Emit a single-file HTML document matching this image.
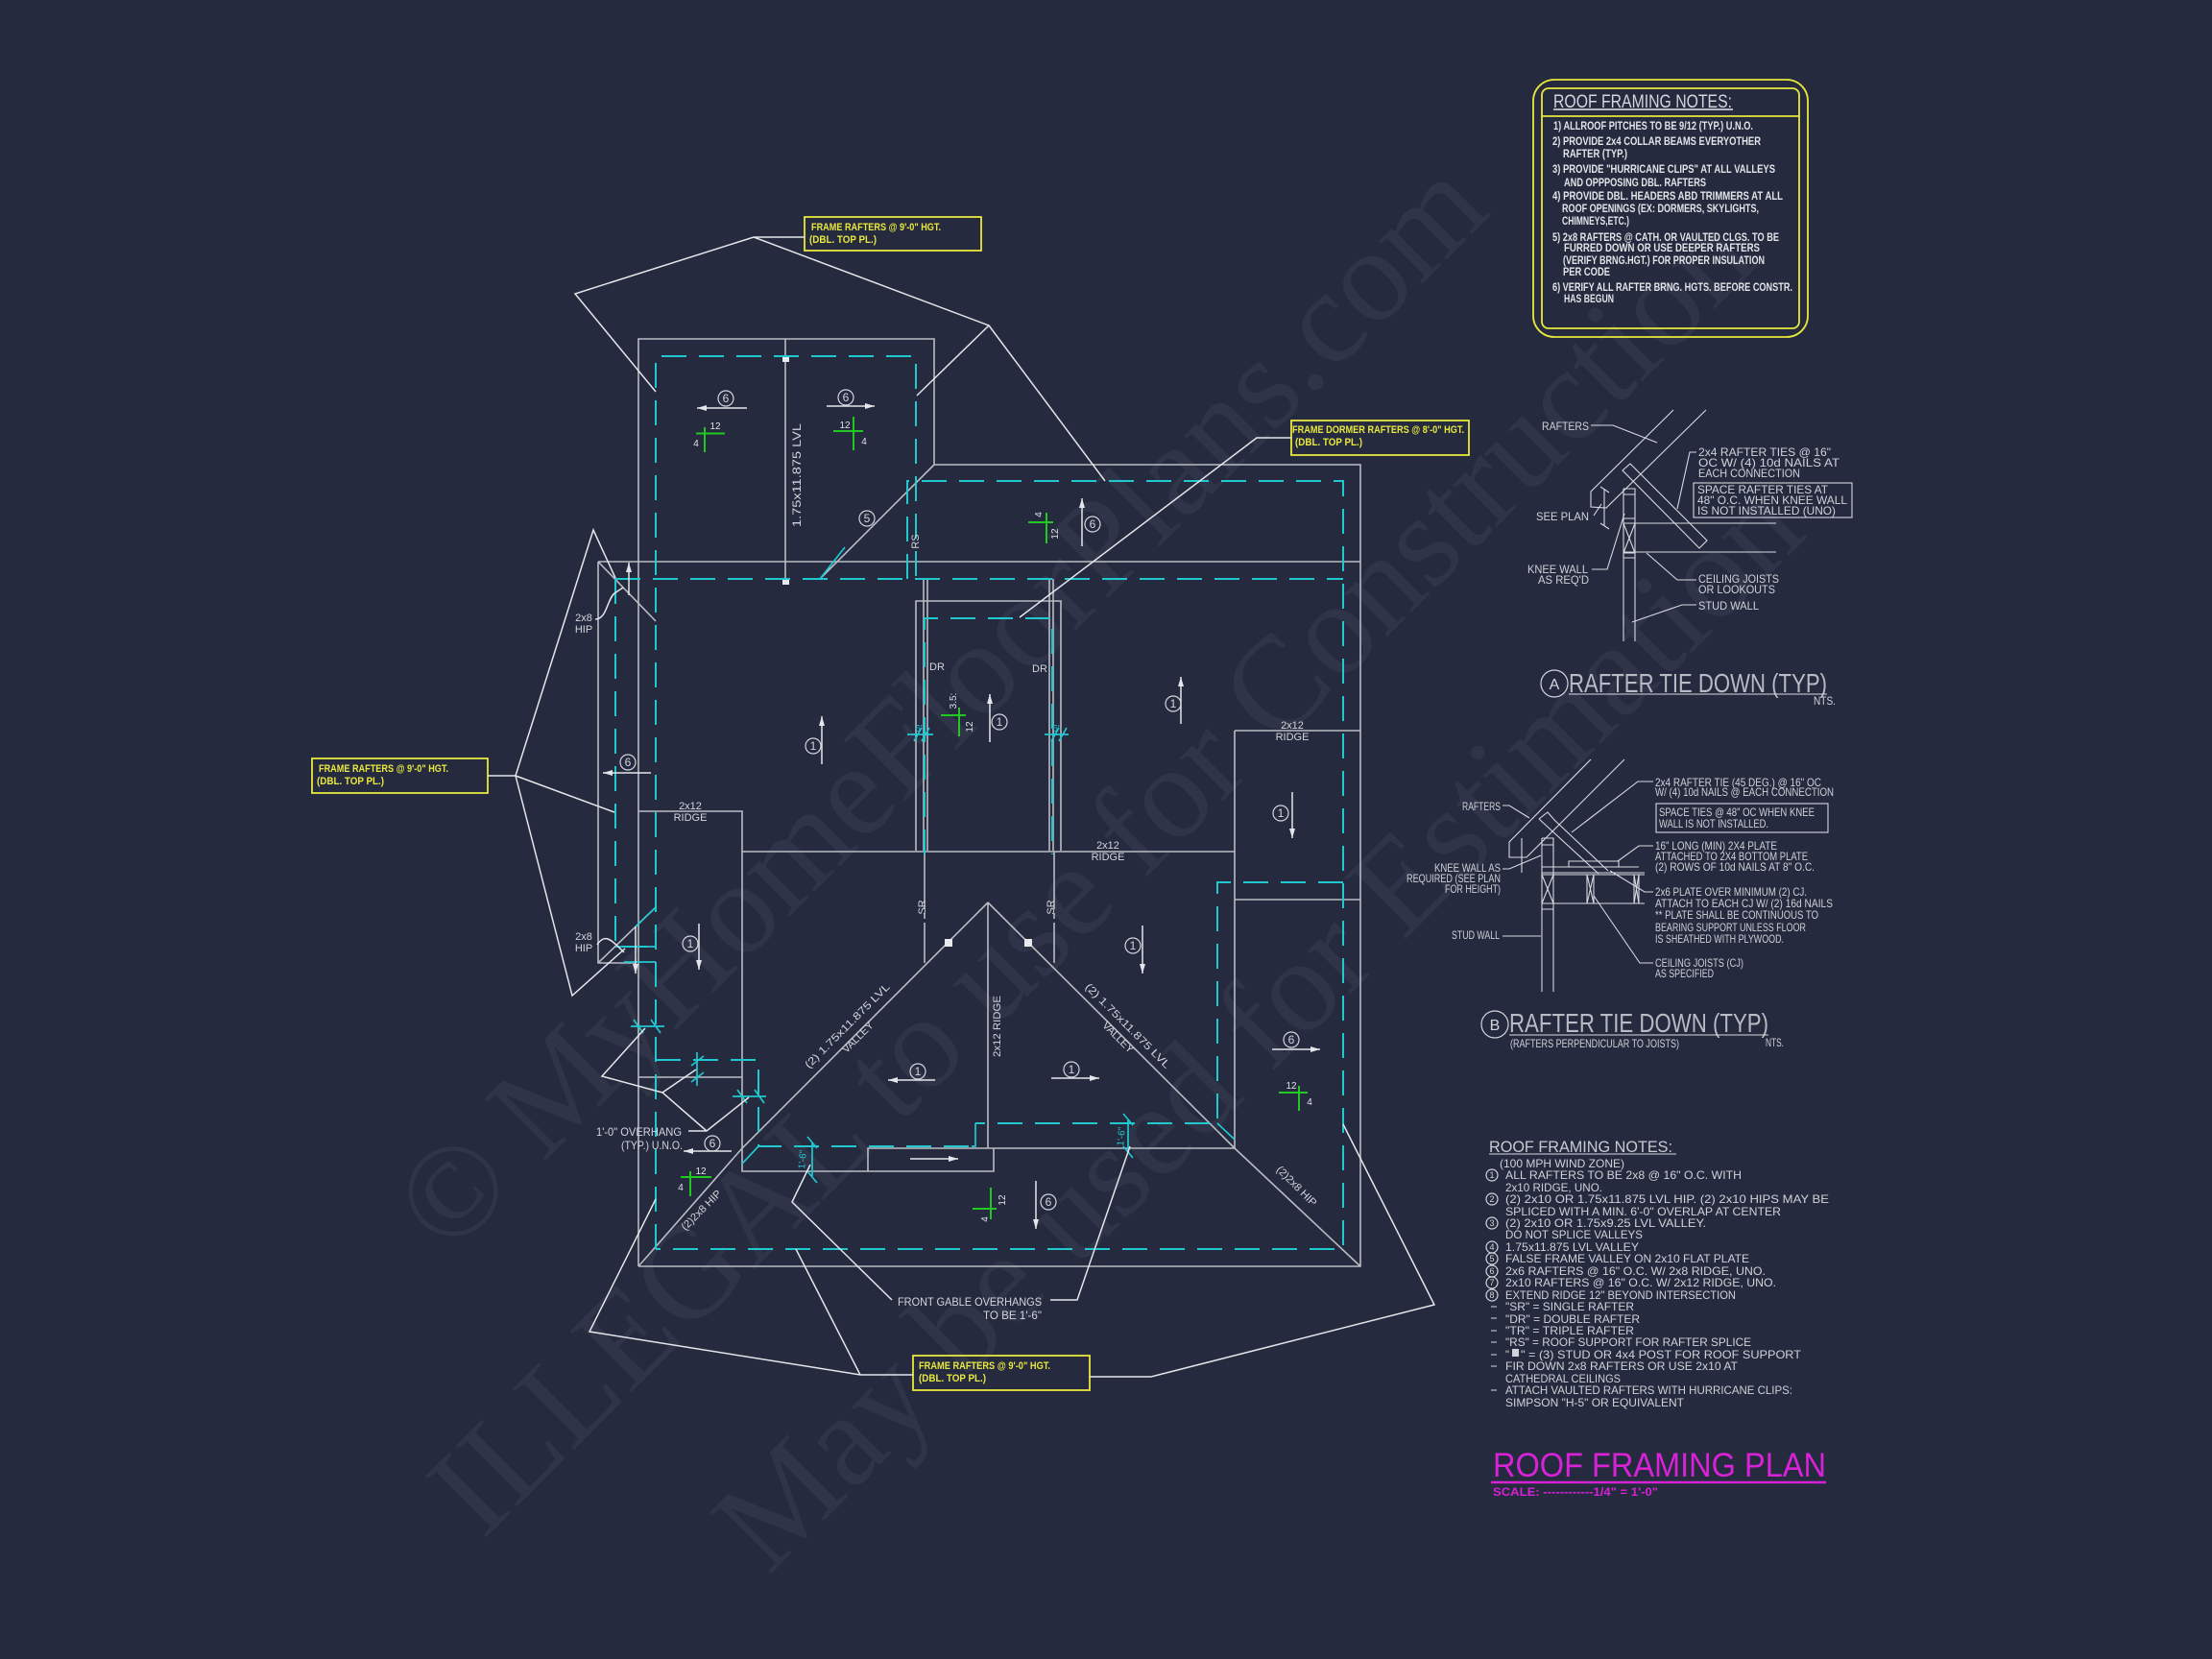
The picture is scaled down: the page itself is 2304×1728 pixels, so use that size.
<!DOCTYPE html>
<html><head><meta charset="utf-8"><title>Roof Framing Plan</title>
<style>
html,body{margin:0;padding:0;background:#252a3e;width:2304px;height:1728px;overflow:hidden}
svg{display:block}
text{font-family:"Liberation Sans",sans-serif;fill:#d3d6dc;font-size:12px}
.wm{font-family:"Liberation Serif",serif;font-size:138px;fill:#2f3448}
.s{font-size:11px}
.y{fill:#e8e83c;font-size:11px;font-weight:bold}
.n{fill:#e2e4e8;font-size:11.5px;font-weight:bold}
.d{font-size:12px;fill:#cfd2d8}
.g{fill:#e0e2e6;font-size:10px}
.c{fill:#20c8d0;font-size:10px}
.l{stroke:#b9bcc3;stroke-width:1.6;fill:none}
.w{stroke:#e4e6ea;stroke-width:1.5;fill:none}
.t{stroke:#d8dae0;stroke-width:1.1;fill:none}
.a{stroke:#e4e6ea;stroke-width:1.5;fill:none;marker-end:url(#ah)}
.cy{stroke:#20c8d0;stroke-width:2;fill:none;stroke-dasharray:26 13}
.cs{stroke:#20c8d0;stroke-width:1.7;fill:none}
.gr{stroke:#22c822;stroke-width:2;fill:none}
.ye{stroke:#e8e83c;stroke-width:1.8;fill:none}
.ci{stroke:#d3d6dc;stroke-width:1.2;fill:none}
</style></head><body>
<svg xmlns="http://www.w3.org/2000/svg" width="2304" height="1728" viewBox="0 0 2304 1728">
<defs><marker id="ah" viewBox="0 0 10 6" refX="10" refY="3" markerWidth="10" markerHeight="6" markerUnits="userSpaceOnUse" orient="auto"><path d="M0 0L10 3L0 6Z" fill="#e4e6ea"/></marker></defs>
<rect width="2304" height="1728" fill="#252a3e"/>

<!-- watermarks -->
<text class="wm" transform="translate(467,1310) rotate(-45)">© MyHomeFloorPlans.com</text>
<text class="wm" transform="translate(503,1605) rotate(-45)">ILLEGAL to use for Construction</text>
<text class="wm" transform="translate(800,1642) rotate(-45)">May be used for Estimation</text>

<!-- plan outline -->
<path class="l" d="M665 1319V353H973V484H1417V1319H665"/>
<path class="l" d="M623 585H1417M623 585V1003H662M623 585L683 647M623 1003L683 945"/>
<path class="l" d="M818 353V606M854 603L973 484"/>
<path class="l" d="M954 886V626H1105V886M962 603V886M966 603V886M1093 603V886M1097 603V886"/>
<path class="l" d="M773 887H1286M665 845H773V1220H1035V1196M1286 761H1417M1286 761V1196H904V1220M665 1122H773M1286 937H1417"/>
<path class="l" d="M1029 940V1196M1029 940L773 1196L665 1319M1029 940L1286 1196L1417 1319"/>
<path class="l" d="M963 887V1003M1098 887V1003" stroke-dasharray="60 4 6 4"/>
<rect x="984" y="978" width="8" height="8" fill="#e8eaee"/><rect x="1067" y="978" width="8" height="8" fill="#e8eaee"/>
<rect x="815" y="370" width="7" height="7" fill="#e8eaee"/><rect x="815" y="602" width="7" height="7" fill="#e8eaee"/>

<!-- cyan -->
<path class="cy" d="M683 1301V371H954V603"/>
<path class="cy" d="M641 603H1399M945 603V501H1399V1301H683M641 603V986H683"/>
<path class="cy" d="M963 890V644H1096V890"/>
<path class="cy" d="M1399 919H1268V1170H1016"/>
<path class="cy" d="M683 1104H790V1194H1012"/>
<path class="cs" d="M854 603L880 570M683 945L662 965M641 986H683M650 1002H683M790 1194L773 1212M1268 1170L1286 1187M1012 1194H1016V1170"/>
<path class="cs" d="M657 1069H692M660 1062L670 1076M678 1062L688 1076M726 1096V1131M720 1110L733 1100M720 1127L733 1117M763 1142H798M768 1135L778 1149M786 1135L796 1149M846 1190V1225M841 1184L851 1196M841 1220L851 1232M1175 1166V1200M1170 1160L1180 1172M1170 1194L1180 1206M945 765H972M952 772L960 758M960 772L968 758M1088 765H1113M1095 772L1103 758M1103 772L1111 758"/>
<text class="c" transform="translate(839,1208) rotate(-85)" text-anchor="middle">1'-6"</text>
<text class="c" transform="translate(1171,1184) rotate(-85)" text-anchor="middle">1'-6"</text>
<text class="c" x="957" y="762" text-anchor="middle">6'</text><text class="c" x="1100" y="762" text-anchor="middle">6'</text>

<!-- yellow labels -->
<rect class="ye" x="838" y="226" width="184" height="35"/>
<text class="y" x="845" y="240" textLength="135" lengthAdjust="spacingAndGlyphs">FRAME RAFTERS @ 9'-0" HGT.</text>
<text class="y" x="843" y="253" textLength="70" lengthAdjust="spacingAndGlyphs">(DBL. TOP PL.)</text>
<rect class="ye" x="1345" y="438" width="185" height="36"/>
<text class="y" x="1346" y="451" textLength="179" lengthAdjust="spacingAndGlyphs">FRAME DORMER RAFTERS @ 8'-0" HGT.</text>
<text class="y" x="1349" y="464" textLength="70" lengthAdjust="spacingAndGlyphs">(DBL. TOP PL.)</text>
<rect class="ye" x="325" y="790" width="183" height="36"/>
<text class="y" x="332" y="804" textLength="135" lengthAdjust="spacingAndGlyphs">FRAME RAFTERS @ 9'-0" HGT.</text>
<text class="y" x="330" y="817" textLength="70" lengthAdjust="spacingAndGlyphs">(DBL. TOP PL.)</text>
<rect class="ye" x="951" y="1412" width="184" height="36"/>
<text class="y" x="957" y="1426" textLength="137" lengthAdjust="spacingAndGlyphs">FRAME RAFTERS @ 9'-0" HGT.</text>
<text class="y" x="957" y="1439" textLength="70" lengthAdjust="spacingAndGlyphs">(DBL. TOP PL.)</text>

<!-- leaders -->
<path class="w" d="M838 247H785L599 306L683 408M785 247L1030 339L955 412M1030 339L1151 501"/>
<path class="w" d="M1345 456H1309L1062 643"/>
<path class="w" d="M508 808H537L618 552L641 602M537 808L640 846M537 808L596 1037L651 988"/>
<path class="w" d="M951 1432H896L614 1387L683 1249M896 1432L829 1301M1135 1434H1199L1494 1359L1399 1171"/>
<path class="w" d="M717 1178H736L780 1143M736 1178L690 1138L725 1114M690 1138L627 1121L672 1071"/>
<path class="w" d="M929 1354L825 1252L844 1213M1094 1354H1122L1177 1194"/>
<path class="w" d="M620 645C632 645 632 625 640 618L649 612"/>
<path class="w" d="M622 984C630 972 636 978 650 992"/>

<!-- arrows -->
<path class="a" d="M778 425H726"/><path class="a" d="M861 423H911"/><path class="a" d="M1127 569V519"/>
<path class="a" d="M678 805H628"/><path class="a" d="M655 620V586"/><path class="a" d="M856 796V746"/><path class="a" d="M1031 773V723"/>
<path class="a" d="M1230 754V705"/><path class="a" d="M1346 825V873"/><path class="a" d="M728 962V1010"/><path class="a" d="M1190 964V1014"/>
<path class="a" d="M662 965V1014"/><path class="a" d="M974 1125H925"/><path class="a" d="M1095 1123H1145"/><path class="a" d="M1325 1093H1375"/>
<path class="a" d="M762 1199H712"/><path class="a" d="M948 1207H998"/><path class="a" d="M1079 1230V1280"/>

<!-- circled tags -->
<g class="ci"><circle cx="756" cy="415" r="8"/><circle cx="881" cy="414" r="8"/><circle cx="1138" cy="546" r="8"/><circle cx="903" cy="540" r="8"/><circle cx="654" cy="794" r="8"/><circle cx="847" cy="777" r="8"/><circle cx="1041" cy="752" r="8"/><circle cx="1222" cy="733" r="8"/><circle cx="1334" cy="847" r="8"/><circle cx="719" cy="983" r="8"/><circle cx="1180" cy="985" r="8"/><circle cx="956" cy="1116" r="8"/><circle cx="1116" cy="1114" r="8"/><circle cx="1345" cy="1083" r="8"/><circle cx="742" cy="1191" r="8"/><circle cx="1092" cy="1252" r="8"/></g>
<g class="s" text-anchor="middle">
<text x="756" y="419" text-anchor="middle">6</text><text x="881" y="418" text-anchor="middle">6</text><text x="1138" y="550" text-anchor="middle">6</text><text x="903" y="544" text-anchor="middle">5</text><text x="654" y="798" text-anchor="middle">6</text><text x="847" y="781" text-anchor="middle">1</text><text x="1041" y="756" text-anchor="middle">1</text><text x="1222" y="737" text-anchor="middle">1</text><text x="1334" y="851" text-anchor="middle">1</text><text x="719" y="987" text-anchor="middle">1</text><text x="1180" y="989" text-anchor="middle">1</text><text x="956" y="1120" text-anchor="middle">1</text><text x="1116" y="1118" text-anchor="middle">1</text><text x="1345" y="1087" text-anchor="middle">6</text><text x="742" y="1195" text-anchor="middle">6</text><text x="1092" y="1256" text-anchor="middle">6</text>
</g>

<!-- pitch marks -->
<path class="gr" d="M725 451.5H755M734 445V471M868 449H899M889 434V469M1071 544H1097M1090 534V566M980 745H1006M999 737V767M1332 1138H1362M1353 1131V1157M709 1226H741M719 1220V1246M1013 1259H1038M1032 1237V1270"/>
<g class="g">
<text class="g" x="745" y="447" text-anchor="middle">12</text><text class="g" x="725" y="465" text-anchor="middle">4</text>
<text class="g" x="880" y="446" text-anchor="middle">12</text><text class="g" x="900" y="463" text-anchor="middle">4</text>
<text class="g" x="1345" y="1134" text-anchor="middle">12</text><text class="g" x="1364" y="1151" text-anchor="middle">4</text>
<text class="g" x="730" y="1223" text-anchor="middle">12</text><text class="g" x="709" y="1240" text-anchor="middle">4</text>
<text class="g" transform="translate(1085,536) rotate(-90)" text-anchor="middle">4</text><text class="g" transform="translate(1102,556) rotate(-90)" text-anchor="middle">12</text>
<text class="g" transform="translate(996,730) rotate(-90)" text-anchor="middle">3.5:</text><text class="g" transform="translate(1013,757) rotate(-90)" text-anchor="middle">12</text>
<text class="g" transform="translate(1047,1250) rotate(-90)" text-anchor="middle">12</text><text class="g" transform="translate(1029,1270) rotate(-90)" text-anchor="middle">4</text>
</g>

<!-- plan labels -->
<text transform="translate(834,495) rotate(-90)" text-anchor="middle" textLength="108" lengthAdjust="spacingAndGlyphs">1.75x11.875 LVL</text>
<text transform="translate(957,564) rotate(-90)" text-anchor="middle" class="s">RS</text>
<text class="s" x="608" y="647" text-anchor="middle">2x8</text><text class="s" x="608" y="659" text-anchor="middle">HIP</text>
<text class="s" x="608" y="979" text-anchor="middle">2x8</text><text class="s" x="608" y="986" dy="5" text-anchor="middle">HIP</text>
<text class="s" x="719" y="843" text-anchor="middle">2x12</text><text class="s" x="719" y="855" text-anchor="middle">RIDGE</text>
<text class="s" x="1346" y="759" text-anchor="middle">2x12</text><text class="s" x="1346" y="771" text-anchor="middle">RIDGE</text>
<text class="s" x="1154" y="884" text-anchor="middle">2x12</text><text class="s" x="1154" y="896" text-anchor="middle">RIDGE</text>
<text class="s" x="976" y="698" text-anchor="middle">DR</text><text class="s" x="1083" y="700" text-anchor="middle">DR</text>
<text class="s" transform="translate(964,945) rotate(-90)" text-anchor="middle">SR</text><text class="s" transform="translate(1098,945) rotate(-90)" text-anchor="middle">SR</text>
<text class="s" transform="translate(1042,1069) rotate(-90)" text-anchor="middle" textLength="64" lengthAdjust="spacingAndGlyphs">2x12 RIDGE</text>
<text class="s" transform="translate(885,1071) rotate(-45)" text-anchor="middle" textLength="120" lengthAdjust="spacingAndGlyphs">(2) 1.75x11.875 LVL</text>
<text class="s" transform="translate(896,1083) rotate(-45)" text-anchor="middle">VALLEY</text>
<text class="s" transform="translate(1172,1071) rotate(45)" text-anchor="middle" textLength="120" lengthAdjust="spacingAndGlyphs">(2) 1.75x11.875 LVL</text>
<text class="s" transform="translate(1162,1083) rotate(45)" text-anchor="middle">VALLEY</text>
<text class="s" transform="translate(733,1263) rotate(-45)" text-anchor="middle" textLength="54" lengthAdjust="spacingAndGlyphs">(2)2x8 HIP</text>
<text class="s" transform="translate(1348,1238) rotate(45)" text-anchor="middle" textLength="54" lengthAdjust="spacingAndGlyphs">(2)2x8 HIP</text>
<text x="621" y="1183" textLength="89" lengthAdjust="spacingAndGlyphs">1'-0" OVERHANG</text>
<text x="647" y="1197" textLength="64" lengthAdjust="spacingAndGlyphs">(TYP.) U.N.O.</text>
<text x="935" y="1360" textLength="150" lengthAdjust="spacingAndGlyphs">FRONT GABLE OVERHANGS</text>
<text x="1024" y="1374" textLength="61" lengthAdjust="spacingAndGlyphs">TO BE 1'-6"</text>

<!-- top notes -->
<rect class="ye" x="1597" y="83" width="286" height="268" rx="22"/>
<rect class="ye" x="1606" y="92" width="268" height="250" rx="7"/>
<path class="ye" d="M1606 121H1874"/>
<text x="1618" y="112" style="font-size:19px" textLength="186" lengthAdjust="spacingAndGlyphs">ROOF FRAMING NOTES:</text><path class="w" d="M1618 114H1805"/>
<text class="n" x="1618" y="135" textLength="208" lengthAdjust="spacingAndGlyphs">1) ALLROOF PITCHES TO BE  9/12 (TYP.) U.N.O.</text>
<text class="n" x="1617" y="151" textLength="217" lengthAdjust="spacingAndGlyphs">2) PROVIDE 2x4 COLLAR BEAMS EVERYOTHER</text>
<text class="n" x="1628" y="164" textLength="67" lengthAdjust="spacingAndGlyphs">RAFTER (TYP.)</text>
<text class="n" x="1617" y="180" textLength="232" lengthAdjust="spacingAndGlyphs">3) PROVIDE "HURRICANE CLIPS" AT ALL VALLEYS</text>
<text class="n" x="1629" y="194" textLength="148" lengthAdjust="spacingAndGlyphs">AND OPPPOSING DBL. RAFTERS</text>
<text class="n" x="1617" y="208" textLength="240" lengthAdjust="spacingAndGlyphs">4) PROVIDE DBL. HEADERS ABD TRIMMERS AT ALL</text>
<text class="n" x="1627" y="221" textLength="205" lengthAdjust="spacingAndGlyphs">ROOF OPENINGS (EX: DORMERS, SKYLIGHTS,</text>
<text class="n" x="1627" y="234" textLength="70" lengthAdjust="spacingAndGlyphs">CHIMNEYS,ETC.)</text>
<text class="n" x="1617" y="251" textLength="236" lengthAdjust="spacingAndGlyphs">5) 2x8 RAFTERS @ CATH. OR VAULTED CLGS. TO BE</text>
<text class="n" x="1629" y="262" textLength="204" lengthAdjust="spacingAndGlyphs">FURRED DOWN OR USE DEEPER RAFTERS</text>
<text class="n" x="1628" y="275" textLength="210" lengthAdjust="spacingAndGlyphs">(VERIFY BRNG.HGT.) FOR PROPER INSULATION</text>
<text class="n" x="1628" y="287" textLength="49" lengthAdjust="spacingAndGlyphs">PER CODE</text>
<text class="n" x="1617" y="303" textLength="250" lengthAdjust="spacingAndGlyphs">6) VERIFY ALL RAFTER BRNG. HGTS. BEFORE CONSTR.</text>
<text class="n" x="1629" y="315" textLength="52" lengthAdjust="spacingAndGlyphs">HAS BEGUN</text>

<!-- detail A -->
<path class="t" d="M1743 427L1657 512V528L1673 529L1777 427M1690 490L1698 483L1778 563L1770 571Z"/>
<path class="t" d="M1691 509V668M1703 509V668M1691 509H1703V515H1691M1691 540H1703V545H1691M1691 576H1703V581H1691M1691 545H1850M1691 575H1850M1691 545L1703 576M1703 545L1691 576M1671 509V547M1667 507L1676 513M1667 545L1676 551"/>
<path class="t" d="M1657 443H1680L1726 461M1668 525L1660 537M1658 593H1674L1692 535M1767 471H1760L1747 530M1767 604H1747L1715 576M1767 630H1752L1700 648"/>
<rect class="t" x="1764" y="503" width="165" height="36"/>
<g class="d">
<text class="d" x="1606" y="448" textLength="49" lengthAdjust="spacingAndGlyphs">RAFTERS</text>
<text class="d" x="1600" y="542" textLength="55" lengthAdjust="spacingAndGlyphs">SEE PLAN</text>
<text class="d" x="1591" y="597" textLength="63" lengthAdjust="spacingAndGlyphs">KNEE WALL</text>
<text class="d" x="1602" y="608" textLength="53" lengthAdjust="spacingAndGlyphs">AS REQ'D</text>
<text class="d" x="1769" y="475" textLength="138" lengthAdjust="spacingAndGlyphs">2x4 RAFTER TIES @ 16"</text>
<text class="d" x="1769" y="486" textLength="147" lengthAdjust="spacingAndGlyphs">OC W/ (4) 10d NAILS AT</text>
<text class="d" x="1769" y="497" textLength="106" lengthAdjust="spacingAndGlyphs">EACH CONNECTION</text>
<text class="d" x="1768" y="514" textLength="136" lengthAdjust="spacingAndGlyphs">SPACE RAFTER TIES AT</text>
<text class="d" x="1768" y="525" textLength="156" lengthAdjust="spacingAndGlyphs">48" O.C. WHEN KNEE WALL</text>
<text class="d" x="1768" y="536" textLength="144" lengthAdjust="spacingAndGlyphs">IS NOT INSTALLED (UNO)</text>
<text class="d" x="1769" y="607" textLength="84" lengthAdjust="spacingAndGlyphs">CEILING JOISTS</text>
<text class="d" x="1769" y="618" textLength="80" lengthAdjust="spacingAndGlyphs">OR LOOKOUTS</text>
<text class="d" x="1769" y="635" textLength="63" lengthAdjust="spacingAndGlyphs">STUD WALL</text>
</g>
<circle class="ci" cx="1619" cy="712" r="14"/><text x="1619" y="718" text-anchor="middle" style="font-size:16px">A</text>
<text x="1634" y="721" style="font-size:28px;fill:#b8bbc3" textLength="269" lengthAdjust="spacingAndGlyphs">RAFTER TIE DOWN (TYP)</text>
<path class="t" d="M1634 723H1903"/>
<text class="d" x="1889" y="734" textLength="23" lengthAdjust="spacingAndGlyphs">NTS.</text>

<!-- detail B -->
<path class="t" d="M1657 791L1572 877V893H1590L1692 791M1603 853L1612 846L1619 854L1675 907M1603 853L1665 910"/>
<path class="t" d="M1606 873V1033M1618 873V1033M1606 873H1618V880H1606M1606 903H1618V909H1606M1606 941H1618V947H1606M1606 909H1713M1606 911H1713M1606 941H1713M1618 903H1707M1634 903V897H1686V903M1653 911V941M1660 911V941M1702 911V941M1707 911V941M1606 911L1618 941M1618 911L1606 941M1653 911L1660 941M1660 911L1653 941M1702 911L1707 941M1707 911L1702 941M1585 873V909"/>
<path class="t" d="M1565 839H1572L1593 852M1565 905H1572L1605 891M1565 975H1605M1722 814H1706L1637 867M1722 881H1707L1685 897M1722 929H1713L1677 907M1722 1003H1708L1660 933"/>
<rect class="t" x="1725" y="837" width="179" height="30"/>
<g class="d">
<text class="d" x="1523" y="844" textLength="40" lengthAdjust="spacingAndGlyphs">RAFTERS</text>
<text class="d" x="1494" y="908" textLength="69" lengthAdjust="spacingAndGlyphs">KNEE WALL AS</text>
<text class="d" x="1465" y="919" textLength="98" lengthAdjust="spacingAndGlyphs">REQUIRED (SEE PLAN</text>
<text class="d" x="1505" y="930" textLength="58" lengthAdjust="spacingAndGlyphs">FOR HEIGHT)</text>
<text class="d" x="1512" y="978" textLength="50" lengthAdjust="spacingAndGlyphs">STUD WALL</text>
<text class="d" x="1724" y="819" textLength="173" lengthAdjust="spacingAndGlyphs">2x4 RAFTER TIE (45 DEG.) @ 16" OC</text>
<text class="d" x="1724" y="829" textLength="186" lengthAdjust="spacingAndGlyphs">W/ (4) 10d NAILS @ EACH CONNECTION</text>
<text class="d" x="1728" y="850" textLength="162" lengthAdjust="spacingAndGlyphs">SPACE TIES @ 48" OC WHEN KNEE</text>
<text class="d" x="1728" y="862" textLength="114" lengthAdjust="spacingAndGlyphs">WALL IS NOT INSTALLED.</text>
<text class="d" x="1724" y="885" textLength="127" lengthAdjust="spacingAndGlyphs">16" LONG (MIN) 2X4 PLATE</text>
<text class="d" x="1724" y="896" textLength="159" lengthAdjust="spacingAndGlyphs">ATTACHED TO 2X4 BOTTOM PLATE</text>
<text class="d" x="1724" y="907" textLength="166" lengthAdjust="spacingAndGlyphs">(2) ROWS OF 10d NAILS AT 8" O.C.</text>
<text class="d" x="1724" y="933" textLength="158" lengthAdjust="spacingAndGlyphs">2x6 PLATE OVER MINIMUM (2) CJ.</text>
<text class="d" x="1724" y="945" textLength="185" lengthAdjust="spacingAndGlyphs">ATTACH TO EACH CJ W/ (2) 16d NAILS</text>
<text class="d" x="1724" y="957" textLength="170" lengthAdjust="spacingAndGlyphs">** PLATE SHALL BE CONTINUOUS TO</text>
<text class="d" x="1724" y="970" textLength="157" lengthAdjust="spacingAndGlyphs">BEARING SUPPORT UNLESS FLOOR</text>
<text class="d" x="1724" y="982" textLength="134" lengthAdjust="spacingAndGlyphs">IS SHEATHED WITH PLYWOOD.</text>
<text class="d" x="1724" y="1007" textLength="92" lengthAdjust="spacingAndGlyphs">CEILING JOISTS (CJ)</text>
<text class="d" x="1724" y="1018" textLength="61" lengthAdjust="spacingAndGlyphs">AS SPECIFIED</text>
</g>
<circle class="ci" cx="1557" cy="1067" r="14"/><text x="1557" y="1073" text-anchor="middle" style="font-size:16px">B</text>
<text x="1572" y="1075" style="font-size:28px;fill:#b8bbc3" textLength="270" lengthAdjust="spacingAndGlyphs">RAFTER TIE DOWN (TYP)</text>
<path class="t" d="M1572 1078H1842"/>
<text class="d" x="1573" y="1091" textLength="176" lengthAdjust="spacingAndGlyphs">(RAFTERS PERPENDICULAR TO JOISTS)</text>
<text class="d" x="1839" y="1090" textLength="19" lengthAdjust="spacingAndGlyphs">NTS.</text>

<!-- roof framing notes -->
<text x="1551" y="1200" style="font-size:17px;fill:#c8cbd2" textLength="191" lengthAdjust="spacingAndGlyphs">ROOF FRAMING NOTES:</text>
<path class="t" d="M1551 1202H1746"/>
<text class="d" x="1562" y="1216" textLength="130" lengthAdjust="spacingAndGlyphs">(100 MPH WIND ZONE)</text>
<g class="ci"><circle cx="1554" cy="1224" r="6"/><circle cx="1554" cy="1249" r="6"/><circle cx="1554" cy="1274" r="6"/><circle cx="1554" cy="1299" r="6"/><circle cx="1554" cy="1311" r="6"/><circle cx="1554" cy="1324" r="6"/><circle cx="1554" cy="1336" r="6"/><circle cx="1554" cy="1349" r="6"/></g>
<g style="font-size:9px">
<text x="1554" y="1227" text-anchor="middle" style="font-size:9px">1</text><text x="1554" y="1252" text-anchor="middle" style="font-size:9px">2</text><text x="1554" y="1277" text-anchor="middle" style="font-size:9px">3</text><text x="1554" y="1302" text-anchor="middle" style="font-size:9px">4</text><text x="1554" y="1314" text-anchor="middle" style="font-size:9px">5</text><text x="1554" y="1327" text-anchor="middle" style="font-size:9px">6</text><text x="1554" y="1339" text-anchor="middle" style="font-size:9px">7</text><text x="1554" y="1352" text-anchor="middle" style="font-size:9px">8</text>
</g>
<path class="t" d="M1553 1361H1559M1553 1373H1559M1553 1386H1559M1553 1398H1559M1553 1411H1559M1553 1423H1559M1553 1448H1559"/>
<rect x="1575" y="1405" width="7" height="8" fill="#cfd2d8"/>
<g class="d">
<text class="d" x="1568" y="1228" textLength="246" lengthAdjust="spacingAndGlyphs">ALL RAFTERS TO BE 2x8 @ 16" O.C. WITH</text>
<text class="d" x="1568" y="1241" textLength="101" lengthAdjust="spacingAndGlyphs">2x10 RIDGE, UNO.</text>
<text class="d" x="1568" y="1253" textLength="337" lengthAdjust="spacingAndGlyphs">(2) 2x10 OR 1.75x11.875 LVL HIP. (2) 2x10 HIPS MAY BE</text>
<text class="d" x="1568" y="1266" textLength="287" lengthAdjust="spacingAndGlyphs">SPLICED WITH A MIN. 6'-0" OVERLAP AT CENTER</text>
<text class="d" x="1568" y="1278" textLength="209" lengthAdjust="spacingAndGlyphs">(2) 2x10 OR 1.75x9.25 LVL VALLEY.</text>
<text class="d" x="1568" y="1290" textLength="143" lengthAdjust="spacingAndGlyphs">DO NOT SPLICE VALLEYS</text>
<text class="d" x="1568" y="1303" textLength="139" lengthAdjust="spacingAndGlyphs">1.75x11.875 LVL VALLEY</text>
<text class="d" x="1568" y="1315" textLength="254" lengthAdjust="spacingAndGlyphs">FALSE FRAME VALLEY ON 2x10 FLAT PLATE</text>
<text class="d" x="1568" y="1328" textLength="271" lengthAdjust="spacingAndGlyphs">2x6 RAFTERS @ 16" O.C. W/ 2x8 RIDGE, UNO.</text>
<text class="d" x="1568" y="1340" textLength="282" lengthAdjust="spacingAndGlyphs">2x10 RAFTERS @ 16" O.C. W/ 2x12 RIDGE, UNO.</text>
<text class="d" x="1568" y="1353" textLength="240" lengthAdjust="spacingAndGlyphs">EXTEND RIDGE 12" BEYOND INTERSECTION</text>
<text class="d" x="1568" y="1365" textLength="134" lengthAdjust="spacingAndGlyphs">"SR" = SINGLE RAFTER</text>
<text class="d" x="1568" y="1378" textLength="140" lengthAdjust="spacingAndGlyphs">"DR" = DOUBLE RAFTER</text>
<text class="d" x="1568" y="1390" textLength="134" lengthAdjust="spacingAndGlyphs">"TR" = TRIPLE RAFTER</text>
<text class="d" x="1568" y="1402" textLength="256" lengthAdjust="spacingAndGlyphs">"RS" = ROOF SUPPORT FOR RAFTER SPLICE</text>
<text class="d" x="1568" y="1415" textLength="4" lengthAdjust="spacingAndGlyphs">"</text>
<text class="d" x="1584" y="1415" textLength="292" lengthAdjust="spacingAndGlyphs">" = (3) STUD OR 4x4 POST FOR ROOF SUPPORT</text>
<text class="d" x="1568" y="1427" textLength="242" lengthAdjust="spacingAndGlyphs">FIR DOWN 2x8 RAFTERS OR USE 2x10 AT</text>
<text class="d" x="1568" y="1440" textLength="120" lengthAdjust="spacingAndGlyphs">CATHEDRAL CEILINGS</text>
<text class="d" x="1568" y="1452" textLength="299" lengthAdjust="spacingAndGlyphs">ATTACH VAULTED RAFTERS WITH HURRICANE CLIPS:</text>
<text class="d" x="1568" y="1465" textLength="186" lengthAdjust="spacingAndGlyphs">SIMPSON "H-5" OR EQUIVALENT</text>
</g>

<!-- title -->
<text x="1555" y="1538" style="font-size:35px;fill:#d822d8" textLength="347" lengthAdjust="spacingAndGlyphs">ROOF FRAMING PLAN</text>
<path d="M1553 1544H1902" stroke="#d822d8" stroke-width="2.5" fill="none"/>
<text x="1555" y="1558" style="font-size:12px;font-weight:bold;fill:#d822d8" textLength="172" lengthAdjust="spacingAndGlyphs">SCALE: ------------1/4" = 1'-0"</text>
</svg>
</body></html>
